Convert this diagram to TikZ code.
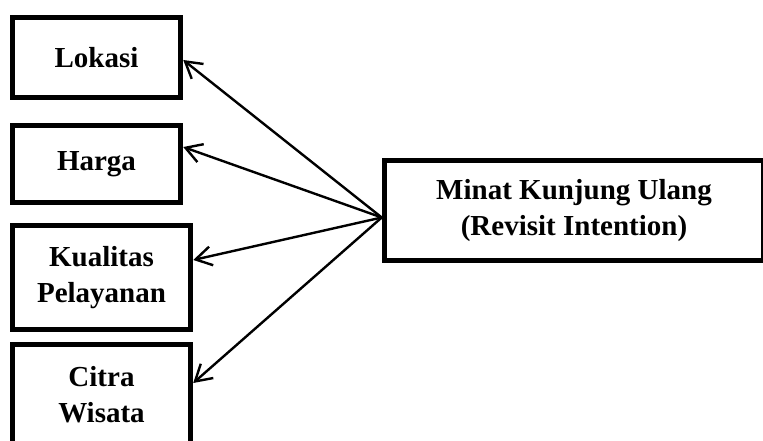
\documentclass[tikz,border=0pt]{standalone}
\usepackage{fontspec}
\setmainfont{Liberation Serif}
\usetikzlibrary{arrows.meta}
\tikzset{>={Straight Barb[length=16pt,width=19pt]}}
\tikzset{varbox/.style={draw,line width=5.5pt,inner sep=0pt,align=center,font=\fontsize{29}{35.5}\selectfont\bfseries}}

\begin{document}
\begin{tikzpicture}[x=1pt,y=-1pt]
	\useasboundingbox (0,0) rectangle (763,441);
	\clip (0,0) rectangle (763,441);
	\node (lokasi) at(96.5,57.5)[varbox,minimum width=168pt,minimum height=80pt]{Lokasi};
	\node (harga) at(96.5,164)[varbox,minimum width=168pt,minimum height=77pt]{Harga};
	\node (kualitas) at(101.5,277.5)[varbox,minimum width=178pt,minimum height=104pt]{Kualitas\\Pelayanan};
	\node (citra) at(101.5,394.5)[varbox,minimum width=178pt,minimum height=100pt]{Citra\\Wisata};
	\node (minat) at(574,210.5)[varbox,minimum width=379pt,minimum height=100pt]{Minat Kunjung Ulang\\(Revisit Intention)};
	\coordinate (pusat) at([yshift=-7pt]minat.west);
	\draw[->,line width=2.4pt](pusat)--([yshift=-2.5pt]lokasi.east);
	\draw[->,line width=2.4pt](pusat)--([yshift=17pt]harga.east);
	\draw[->,line width=2.4pt](pusat)--([yshift=17.5pt]kualitas.east);
	\draw[->,line width=2.4pt](pusat)--([yshift=11.5pt]citra.east);
\end{tikzpicture}
\end{document}
